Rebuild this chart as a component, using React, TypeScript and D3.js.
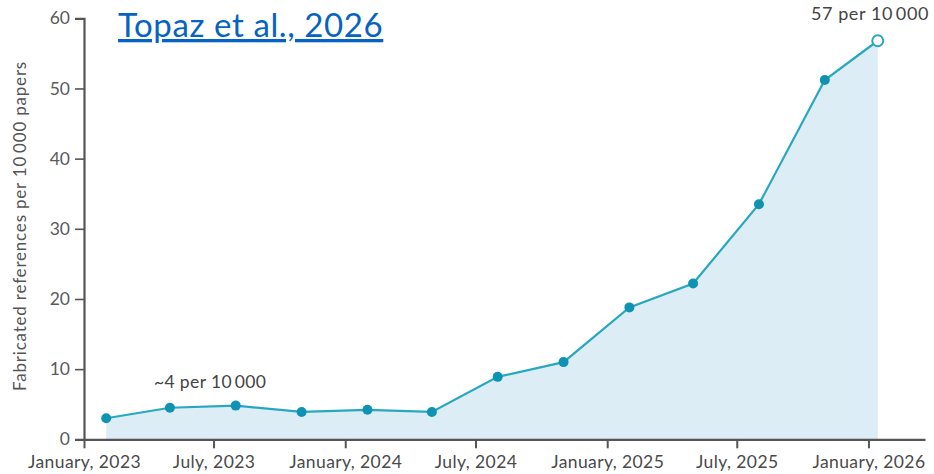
import {
  select,
  scaleTime,
  scaleLinear,
  axisLeft,
  axisBottom,
  line as d3Line,
  area as d3Area,
  timeFormat,
} from "d3";
import { useEffect, useRef } from "react";

// data (quarterly points, last one is January 2026)
const dates = [
  "2023-02-01",
  "2023-05-01",
  "2023-08-01",
  "2023-11-01",
  "2024-02-01",
  "2024-05-01",
  "2024-08-01",
  "2024-11-01",
  "2025-02-01",
  "2025-05-01",
  "2025-08-01",
  "2025-11-01",
  "2026-01-14",
];
const values = [3.0, 4.5, 4.8, 3.9, 4.2, 3.9, 8.9, 11.0, 18.8, 22.2, 33.5, 51.2, 56.8];
const xTicks = ["2023-01-01", "2023-07-01", "2024-01-01", "2024-07-01", "2025-01-01", "2025-07-01", "2026-01-01"];
const yTicks = [0, 10, 20, 30, 40, 50, 60];

const W = 934;
const H = 474;

export default function App() {
  const ref = useRef<SVGSVGElement | null>(null);

  useEffect(() => {
    if (!ref.current) return;
    const svg = select(ref.current);
    svg.selectAll("*").remove();

    const font = "Lato, 'Open Sans', sans-serif";
    const grey = "#555";

    const x = scaleTime()
      .domain([new Date("2023-01-01"), new Date("2026-03-21")])
      .range([84, 925]);
    const y = scaleLinear().domain([0, 60]).range([439.3, 18.3]);

    const pts = dates.map((d, i) => ({ t: new Date(d), v: values[i] }));

    // Area under the line
    const area = d3Area<any>()
      .x((d) => x(d.t))
      .y0(y(0))
      .y1((d) => y(d.v));
    svg.append("path").attr("d", area(pts)!).attr("fill", "#dcedf6");

    // Y axis
    const gy = svg
      .append("g")
      .attr("transform", `translate(${x.range()[0]},0)`)
      .call(axisLeft(y).tickValues(yTicks).tickSize(9).tickPadding(5));
    gy.select(".domain").attr("stroke", grey).attr("stroke-width", 2.2);
    gy.selectAll(".tick line").attr("stroke", grey).attr("stroke-width", 1.6);
    gy.selectAll(".tick text")
      .attr("fill", "#5a5a5a")
      .style("font-family", font)
      .style("font-size", "17.5px");

    // X axis
    const fmt = timeFormat("%B, %Y");
    const gx = svg
      .append("g")
      .attr("transform", `translate(0,${y(0)})`)
      .call(
        axisBottom(x)
          .tickValues(xTicks.map((d) => new Date(d)))
          .tickFormat((d: any) => fmt(d))
          .tickSize(9)
          .tickSizeOuter(0)
          .tickPadding(7)
      );
    gx.select(".domain").attr("stroke", grey).attr("stroke-width", 2.2);
    gx.selectAll(".tick line").attr("stroke", grey).attr("stroke-width", 2);
    gx.selectAll(".tick text")
      .attr("fill", "#4a4a4a")
      .style("font-family", font)
      .style("font-size", "17.5px")
      .style("letter-spacing", "0.4px");

    // Y axis title
    svg
      .append("text")
      .attr("transform", `translate(26,226) rotate(-90)`)
      .attr("text-anchor", "middle")
      .attr("fill", "#555")
      .style("font-family", font)
      .style("font-size", "17px")
      .style("letter-spacing", "0.8px")
      .text("Fabricated references per 10\u2009000 papers");

    // Line
    const line = d3Line<any>()
      .x((d) => x(d.t))
      .y((d) => y(d.v));
    svg
      .append("path")
      .attr("d", line(pts)!)
      .attr("fill", "none")
      .attr("stroke", "#29a7c0")
      .attr("stroke-width", 2.2);

    // Points
    const last = pts.length - 1;
    svg
      .append("g")
      .selectAll("circle")
      .data(pts.slice(0, last))
      .join("circle")
      .attr("cx", (d) => x(d.t))
      .attr("cy", (d) => y(d.v))
      .attr("r", 5)
      .attr("fill", "#1093b3");
    svg
      .append("circle")
      .attr("cx", x(pts[last].t))
      .attr("cy", y(pts[last].v))
      .attr("r", 5.5)
      .attr("fill", "#fff")
      .attr("stroke", "#29a7c0")
      .attr("stroke-width", 2);

    // Annotations
    svg
      .append("text")
      .attr("x", x(pts[1].t) - 16)
      .attr("y", y(values[1]) - 20)
      .attr("fill", "#444")
      .style("font-family", font)
      .style("font-size", "17.5px")
      .style("letter-spacing", "0.4px")
      .text("~4 per 10\u2009000");
    svg
      .append("text")
      .attr("x", 929)
      .attr("y", 20)
      .attr("text-anchor", "end")
      .attr("fill", "#444")
      .style("font-family", font)
      .style("font-size", "18px")
      .style("letter-spacing", "0.6px")
      .text("57 per 10\u2009000");

    // Citation link
    svg
      .append("text")
      .attr("x", 118)
      .attr("y", 37)
      .attr("fill", "#0563c1")
      .attr("text-decoration", "underline")
      .style("font-family", "Lato, 'Open Sans', sans-serif")
      .style("font-size", "33px")
      .style("letter-spacing", "0.6px")
      .text("Topaz et al., 2026");
  }, []);

  return (
    <div style={{ position: "absolute", left: 0, top: 0, background: "#fff" }}>
      <svg ref={ref} width={W} height={H} style={{ display: "block" }}></svg>
    </div>
  );
}
